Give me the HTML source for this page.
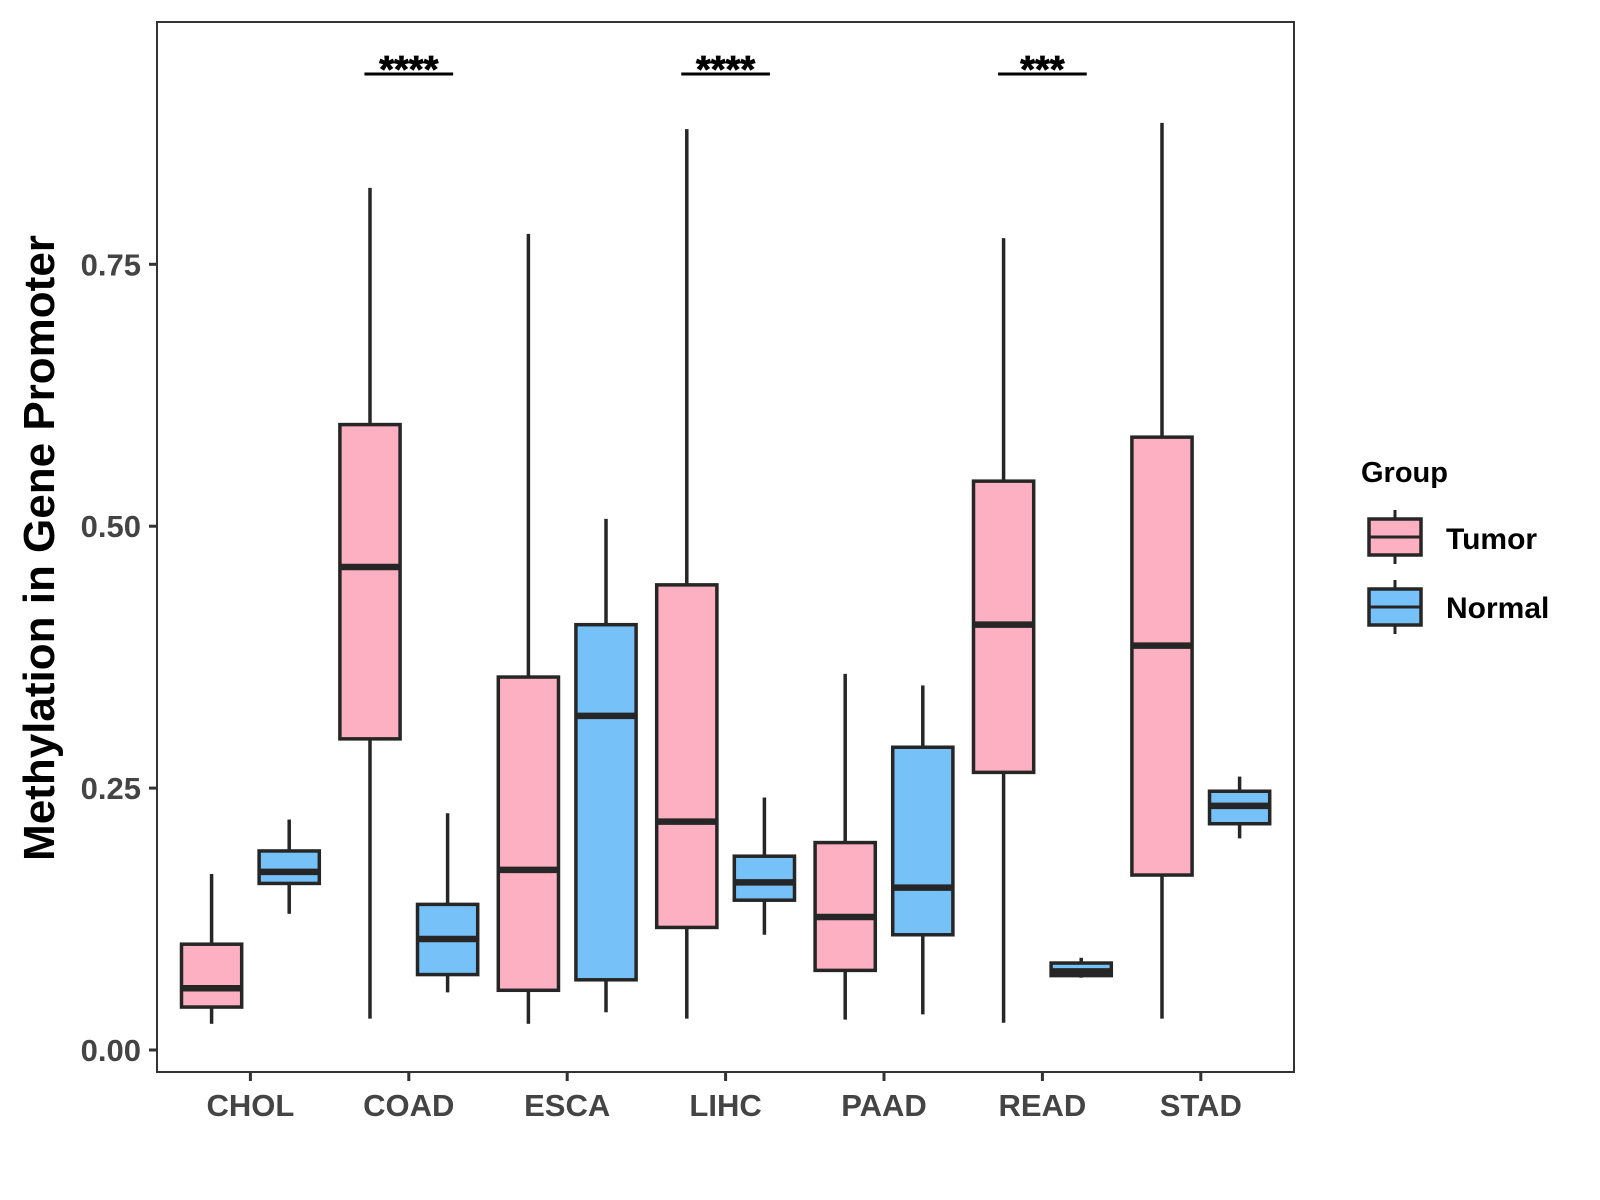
<!DOCTYPE html>
<html><head><meta charset="utf-8"><style>
html,body{margin:0;padding:0;background:#fff;}
svg{display:block;font-family:"Liberation Sans",Arial,sans-serif;font-weight:bold;}
</style></head><body>
<svg id="chart" width="1600" height="1200" viewBox="0 0 1600 1200"></svg>
<script>
const categories = ["CHOL","COAD","ESCA","LIHC","PAAD","READ","STAD"];
const groups = ["Tumor","Normal"];
const tumorLow  = [0.025,0.030,0.025,0.030,0.029,0.026,0.030];
const tumorQ1   = [0.041,0.297,0.057,0.117,0.076,0.265,0.167];
const tumorMed  = [0.059,0.461,0.172,0.218,0.127,0.406,0.386];
const tumorQ3   = [0.101,0.597,0.356,0.444,0.198,0.543,0.585];
const tumorHigh = [0.168,0.823,0.779,0.879,0.359,0.775,0.885];
const normalLow  = [0.130,0.055,0.036,0.110,0.034,0.069,0.202];
const normalQ1   = [0.159,0.072,0.067,0.143,0.110,0.071,0.216];
const normalMed  = [0.170,0.106,0.319,0.160,0.155,0.075,0.233];
const normalQ3   = [0.190,0.139,0.406,0.185,0.289,0.083,0.247];
const normalHigh = [0.220,0.226,0.507,0.241,0.348,0.088,0.261];
const yTicks = [0,0.25,0.5,0.75];
const yTickLabels = ["0.00","0.25","0.50","0.75"];
const sigCategories = ["COAD","LIHC","READ"];
const sigLabels = ["****","****","***"];

const NS="http://www.w3.org/2000/svg";
const svg=document.getElementById('chart');
const P={l:157,r:1294,t:22,b:1072};
const unit=158.4, x0=250.4;
function xScale(i){return x0+i*unit;}
function yScale(v){return 1050-v*1047.6;}
function mk(tag,attrs,parent){const e=document.createElementNS(NS,tag);for(const k in attrs)e.setAttribute(k,attrs[k]);(parent||svg).appendChild(e);return e;}

const panel=mk('rect',{x:P.l,y:P.t,width:P.r-P.l,height:P.b-P.t,fill:'#fff',stroke:'#333','stroke-width':2});



yTicks.forEach((v,i)=>{
  const y=yScale(v);
  const t=mk('line',{x1:P.l-8,x2:P.l,y1:y,y2:y,stroke:'#333','stroke-width':3});
  
  
  const lb=mk('text',{x:P.l-16,y:y+11,'text-anchor':'end','font-size':31,fill:'#444'});
  lb.textContent=yTickLabels[i];
  
  
});
categories.forEach((c,i)=>{
  const x=xScale(i);
  const t=mk('line',{x1:x,x2:x,y1:P.b,y2:P.b+9,stroke:'#333','stroke-width':3});
  
  
  const lb=mk('text',{x:x,y:1116,'text-anchor':'middle','font-size':31,fill:'#444'});
  lb.textContent=c;
  
  
});
const yt=mk('text',{x:0,y:0,transform:'translate(54,548) rotate(-90)','text-anchor':'middle','font-size':44,fill:'#000'});
yt.textContent='Methylation in Gene Promoter';



const series=[
 {name:'tumor',fill:'#FDB0C1',off:-0.245,low:tumorLow,q1:tumorQ1,med:tumorMed,q3:tumorQ3,high:tumorHigh},
 {name:'normal',fill:'#76C1F8',off:0.245,low:normalLow,q1:normalQ1,med:normalMed,q3:normalQ3,high:normalHigh}
];
const bw=0.38*unit;
series.forEach(s=>{
  categories.forEach((c,i)=>{
    const cx=xScale(i)+s.off*unit;
    const g=mk('g',{});
    
    
    mk('line',{x1:cx,x2:cx,y1:yScale(s.high[i]),y2:yScale(s.q3[i]),stroke:'#262626','stroke-width':3.5},g);
    mk('line',{x1:cx,x2:cx,y1:yScale(s.q1[i]),y2:yScale(s.low[i]),stroke:'#262626','stroke-width':3.5},g);
    mk('rect',{x:cx-bw/2,y:yScale(s.q3[i]),width:bw,height:yScale(s.q1[i])-yScale(s.q3[i]),fill:s.fill,stroke:'#262626','stroke-width':3.5},g);
    mk('line',{x1:cx-bw/2,x2:cx+bw/2,y1:yScale(s.med[i]),y2:yScale(s.med[i]),stroke:'#262626','stroke-width':6.5},g);
  });
});
sigCategories.forEach((c,k)=>{
  const i=categories.indexOf(c);const x=xScale(i);
  const g=mk('g',{});
  
  
  mk('line',{x1:x-0.28*unit,x2:x+0.28*unit,y1:74,y2:74,stroke:'#000','stroke-width':3},g);
  const t=mk('text',{x:x,y:82,'text-anchor':'middle','font-size':38,fill:'#000',stroke:'#000','stroke-width':0.8},g);
  t.textContent=sigLabels[k];
});
const lg=mk('g',{});


const lt=mk('text',{x:1361,y:482,'font-size':29,fill:'#000'},lg);
lt.textContent='Group';


[["Tumor","#FDB0C1",519,549],["Normal","#76C1F8",589,618]].forEach(([n,f,y,by])=>{
  const e=mk('g',{},lg);
  
  
  mk('line',{x1:1395,x2:1395,y1:y-9,y2:y+45,stroke:'#262626','stroke-width':3},e);
  mk('rect',{x:1369,y:y,width:52,height:36,fill:f,stroke:'#262626','stroke-width':3.5},e);
  mk('line',{x1:1369,x2:1421,y1:y+18,y2:y+18,stroke:'#262626','stroke-width':3},e);
  const t=mk('text',{x:1446,y:by,'font-size':30,fill:'#000'},e);
  t.textContent=n;
});
</script>
</body></html>
